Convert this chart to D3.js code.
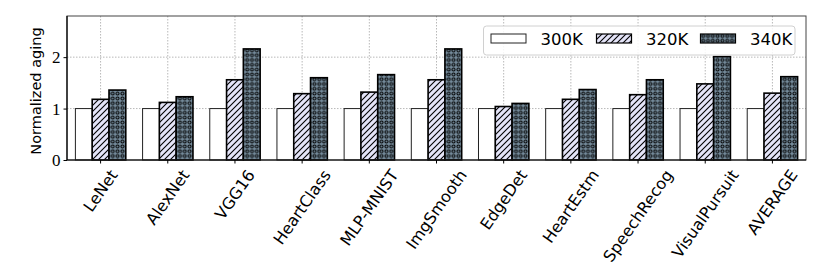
<!DOCTYPE html>
<html><head><meta charset="utf-8">
<script src="https://cdn.jsdelivr.net/npm/d3@7"></script>
<style>body{margin:0;background:#fff}svg{display:block}</style>
</head><body><svg id="c" width="822" height="274"></svg>
<script>
const categories = ["LeNet","AlexNet","VGG16","HeartClass","MLP-MNIST","ImgSmooth","EdgeDet","HeartEstm","SpeechRecog","VisualPursuit","AVERAGE"];
const seriesNames = ["300K","320K","340K"];
const v300 = [1,1,1,1,1,1,1,1,1,1,1];
const v320 = [1.18,1.12,1.56,1.29,1.32,1.56,1.04,1.18,1.27,1.48,1.30];
const v340 = [1.36,1.23,2.16,1.60,1.66,2.16,1.10,1.37,1.56,2.01,1.62];
const yTicks = [0,1,2];
const yLabel = "Normalized aging";

const svg = d3.select("#c");
const L = 67, R = 806, T = 16, B = 160;
const x = d3.scaleBand().domain(categories).range([L,R]).paddingInner(0.25).paddingOuter(0.125);
const xs = d3.scaleBand().domain(seriesNames).range([0,x.bandwidth()]);
const y = d3.scaleLinear().domain([0,2.8]).range([B,T]);

const defs = svg.append("defs");
const ph = defs.append("pattern").attr("id","hatch").attr("patternUnits","userSpaceOnUse").attr("width",6).attr("height",6);
ph.append("rect").attr("width",6).attr("height",6).attr("fill","#e4e4f8");
ph.append("path").attr("d","M0,6L6,0M-1,1L1,-1M5,7L7,5").attr("stroke","#000").attr("stroke-width",1.1);
const pd = defs.append("pattern").attr("id","dots").attr("patternUnits","userSpaceOnUse").attr("width",4.8).attr("height",4.8);
pd.append("rect").attr("width",4.8).attr("height",4.8).attr("fill","#748a9a");
pd.append("circle").attr("cx",2.4).attr("cy",2.4).attr("r",1.5).attr("fill","none").attr("stroke","#000").attr("stroke-width",1);

const fills = ["#fff","url(#hatch)","url(#dots)"];
const strokes = ["#222","#000","#000"];
const sw = [1,1.6,1.6];
const sans = "'DejaVu Sans',sans-serif";

// grid
const g = svg.append("g");
g.selectAll("line.hg").data(yTicks.slice(1)).join("line")
 .attr("x1",L).attr("x2",R).attr("y1",d=>y(d)).attr("y2",d=>y(d))
 .attr("stroke","#b8b8b8").attr("stroke-width",1).attr("stroke-dasharray","1.5,1.5");
g.selectAll("line.vg").data(categories).join("line")
 .attr("x1",d=>x(d)+x.bandwidth()/2).attr("x2",d=>x(d)+x.bandwidth()/2).attr("y1",T).attr("y2",B)
 .attr("stroke","#b8b8b8").attr("stroke-width",1).attr("stroke-dasharray","1.5,1.5");

const series = [v300,v320,v340];
series.forEach((vals,si)=>{
  svg.append("g").selectAll("rect").data(categories).join("rect")
   .attr("x",(d)=>x(d)+xs(seriesNames[si]))
   .attr("width",xs.bandwidth())
   .attr("y",(d,i)=>y(vals[i]))
   .attr("height",(d,i)=>y(0)-y(vals[i]))
   .attr("fill",fills[si]).attr("stroke",strokes[si]).attr("stroke-width",sw[si]);
});

// frame
svg.append("rect").attr("x",L).attr("y",T).attr("width",R-L).attr("height",B-T)
 .attr("fill","none").attr("stroke","#444").attr("stroke-width",1);
svg.append("line").attr("x1",L).attr("x2",R).attr("y1",B).attr("y2",B).attr("stroke","#000").attr("stroke-width",1.2);
svg.append("line").attr("x1",L).attr("x2",L).attr("y1",T).attr("y2",B).attr("stroke","#000").attr("stroke-width",1.2);

// y axis
const ya = svg.append("g").attr("transform",`translate(${L},0)`)
 .call(d3.axisLeft(y).tickValues(yTicks).tickSize(3.5).tickPadding(3).tickFormat(d3.format("d")));
ya.select(".domain").remove();
ya.selectAll("text").attr("font-family","'Liberation Serif','DejaVu Serif',serif").attr("font-size",17).attr("fill","#000");
ya.selectAll("line").attr("stroke","#000");

svg.append("text").attr("transform",`translate(41,${(T+B)/2+3}) rotate(-90)`)
 .attr("text-anchor","middle").attr("font-family",sans).attr("font-size",14.5).text(yLabel);

// x axis ticks
const xa = svg.append("g").attr("transform",`translate(0,${B})`)
 .call(d3.axisBottom(x).tickSize(3.5).tickFormat(""));
xa.select(".domain").remove();
xa.selectAll("line").attr("stroke","#000");

const ang = 55*Math.PI/180;
const fs = 16;
categories.forEach(c=>{
  const t = svg.append("text").attr("font-family",sans).attr("font-size",fs)
   .attr("text-anchor","middle").attr("dominant-baseline","central").text(c);
  const len = t.node().getComputedTextLength();
  const h = fs*0.8;
  const bh = len*Math.sin(ang)+h*Math.cos(ang);
  const cx = x(c)+x.bandwidth()/2, cy = 168 + bh/2;
  t.attr("transform",`translate(${cx},${cy}) rotate(-55)`);
});

// legend
const lg = svg.append("g");
lg.append("rect").attr("x",483.5).attr("y",26).attr("width",311.5).attr("height",29).attr("rx",3)
 .attr("fill","#fff").attr("fill-opacity",0.85).attr("stroke","#d0d0d0").attr("stroke-width",1);
const lx = [491,596.5,700.5];
seriesNames.forEach((s,i)=>{
  lg.append("rect").attr("x",lx[i]).attr("y",34).attr("width",35).attr("height",9)
   .attr("fill",fills[i]).attr("stroke",strokes[i]).attr("stroke-width",i===0?1:1.2);
  lg.append("text").attr("x",lx[i]+49.5).attr("y",39.5).attr("dominant-baseline","central")
   .attr("font-family",sans).attr("font-size",16.5).text(s);
});
</script></body></html>
